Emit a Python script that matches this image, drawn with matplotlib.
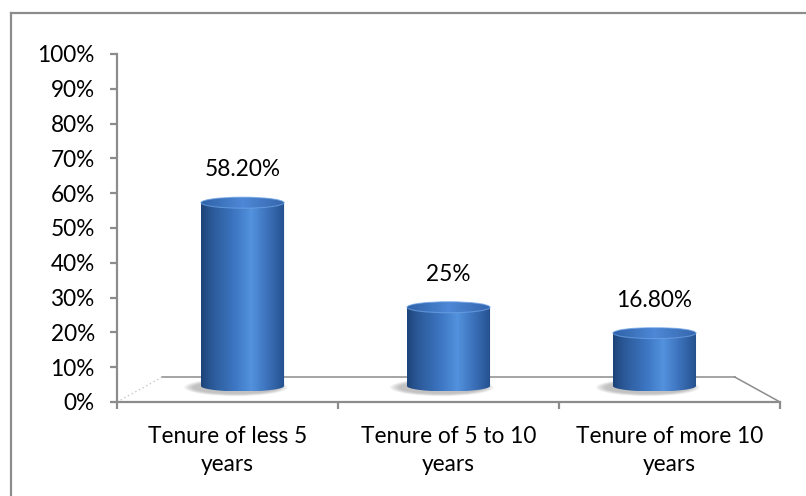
import numpy as np
import matplotlib
matplotlib.use("Agg")
import matplotlib.pyplot as plt
from matplotlib.patches import Ellipse, Polygon
from matplotlib.colors import LinearSegmentedColormap
from matplotlib.lines import Line2D

plt.rcParams['font.family'] = ['Lato', 'DejaVu Sans']

categories = ["Tenure of less 5\nyears", "Tenure of 5 to 10\nyears", "Tenure of more 10\nyears"]
values = [0.582, 0.25, 0.168]
labels = ["58.20%", "25%", "16.80%"]
yticks = np.arange(0, 1.01, 0.1)

FS = 16.3
GRAY = "#8c8c8c"

fig = plt.figure(figsize=(8.06, 4.96), dpi=100)
ax = fig.add_axes([117/806, 1 - 402/496, 663/806, 348/496])
ax.set_xlim(0, 3)
ax.set_ylim(0, 1)

for s in ["top", "right"]:
    ax.spines[s].set_visible(False)
for s in ["left", "bottom"]:
    ax.spines[s].set_color(GRAY)
    ax.spines[s].set_linewidth(1.6)

ax.set_yticks(yticks)
ax.set_yticklabels([f"{int(round(t*100))}%" for t in yticks], fontsize=FS)
ax.set_xticks([0, 1, 2, 3])
ax.set_xticklabels([])
ax.set_xticks([0.5, 1.5, 2.5], minor=True)
ax.set_xticklabels(categories, minor=True, fontsize=FS, linespacing=1.45)
ax.tick_params(axis="y", length=5, width=1.6, color=GRAY, pad=11)
ax.tick_params(axis="x", which="major", length=5, width=1.6, color=GRAY)
ax.tick_params(axis="x", which="minor", length=0, pad=17)

# floor in perspective
back_s = 0.863
back_y = 0.072
bx0 = 1.5 - 1.5 * back_s
bx1 = 1.5 + 1.5 * back_s
ax.plot([bx0, bx1], [back_y, back_y], color=GRAY, lw=1.1, clip_on=False, zorder=1)
ax.plot([0, bx0], [0, back_y], color="#c8c8c8", lw=1.0, ls=(0, (1, 2)), clip_on=False, zorder=1)
ax.plot([3, bx1], [0, back_y], color=GRAY, lw=1.1, clip_on=False, zorder=1)

# cylinders at mid depth
mid_s = 0.932
base = 0.046
k = 0.905
hw = 0.188
eh = 5.5 / 348

side_cmap = LinearSegmentedColormap.from_list("side", [
    (0.0, "#1d4479"), (0.12, "#2a5896"), (0.4, "#3d76c2"),
    (0.6, "#5392de"), (0.8, "#3b70b9"), (0.93, "#2c5c9d"), (1.0, "#24508c")])
top_cmap = LinearSegmentedColormap.from_list("top", [
    (0.0, "#2f62a8"), (0.5, "#4e88d6"), (1.0, "#3566ac")])

grad = np.linspace(0, 1, 256).reshape(1, -1)

for i, v in enumerate(values):
    xc = 1.5 + (i + 0.5 - 1.5) * mid_s
    x0, x1 = xc - hw, xc + hw
    yt = base + k * v

    # soft shadow on the floor
    for j in range(8):
        f = 1 - j / 8
        ax.add_patch(Ellipse((xc - 0.03, base - 0.004), 2 * hw * (1.0 + 0.25 * f), 2 * eh * (1.1 + 0.5 * f),
                             color="#555555", alpha=0.05, lw=0, zorder=2))

    # body silhouette: rectangle + lower half ellipse
    t = np.linspace(np.pi, 2 * np.pi, 60)
    bottom = np.column_stack([xc + hw * np.cos(t), base + eh * np.sin(t)])
    verts = np.vstack([[[x0, yt]], bottom, [[x1, yt]], [[x0, yt]]])
    body = Polygon(verts, closed=True, facecolor="none", edgecolor="none", transform=ax.transData)
    ax.add_patch(body)
    im = ax.imshow(grad, cmap=side_cmap, extent=[x0, x1, base - eh, yt], aspect="auto",
                   interpolation="bilinear", zorder=3)
    im.set_clip_path(body)

    # top face
    top = Ellipse((xc, yt), 2 * hw, 2 * eh, facecolor="none", edgecolor="none", transform=ax.transData)
    ax.add_patch(top)
    imt = ax.imshow(grad, cmap=top_cmap, extent=[x0, x1, yt - eh, yt + eh], aspect="auto",
                    interpolation="bilinear", zorder=4)
    imt.set_clip_path(top)
    ax.add_patch(Ellipse((xc, yt), 2 * hw, 2 * eh, facecolor="none", edgecolor="#6fa3e6",
                         lw=0.8, alpha=0.7, zorder=5))

    ax.annotate(labels[i], (xc, yt + eh), xytext=(0, 15), textcoords="offset points",
                ha="center", va="baseline", fontsize=FS, color="black", zorder=6)

ax.set_xlim(0, 3)
ax.set_ylim(0, 1)

# chart border (only top and left visible)
fig.add_artist(Line2D([11/806, 1], [1 - 12.5/496, 1 - 12.5/496], color=GRAY, lw=1.6, transform=fig.transFigure))
fig.add_artist(Line2D([11/806, 11/806], [0, 1 - 12.5/496], color=GRAY, lw=1.6, transform=fig.transFigure))

fig.savefig("out.png", dpi=100, facecolor="white")
